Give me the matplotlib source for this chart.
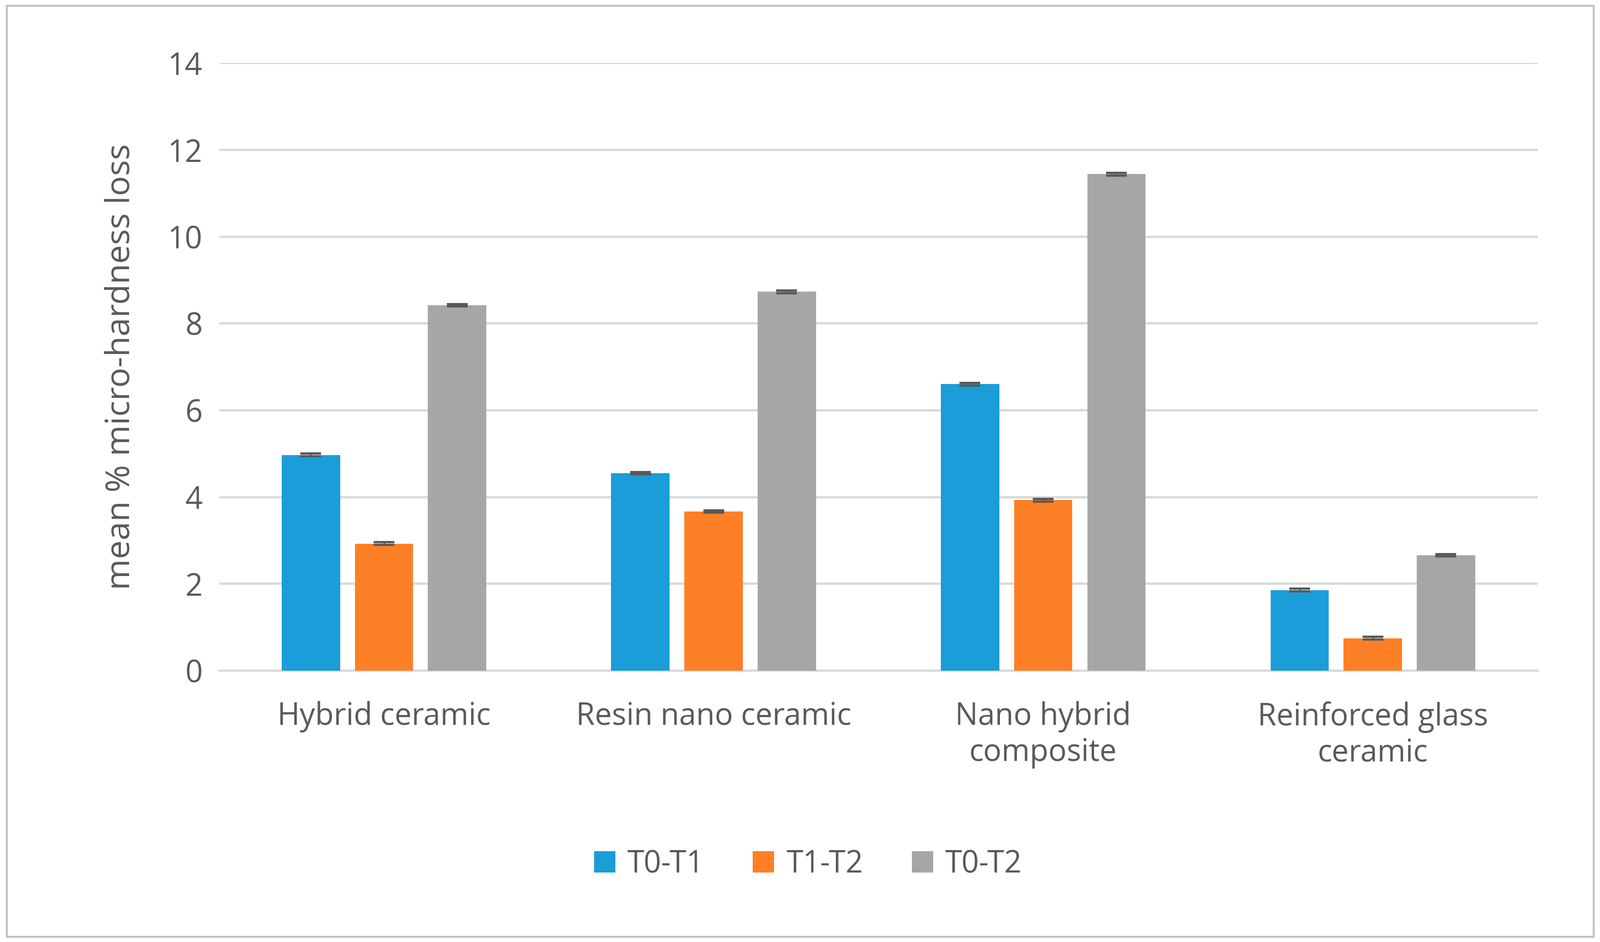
import matplotlib.pyplot as plt
import numpy as np
from matplotlib.patches import Rectangle

plt.rcParams["font.family"] = "Open Sans"

categories = ["Hybrid ceramic", "Resin nano ceramic", "Nano hybrid\ncomposite", "Reinforced glass\nceramic"]
series_names = ["T0-T1", "T1-T2", "T0-T2"]
t0_t1 = [4.97, 4.55, 6.60, 1.86]
t1_t2 = [2.93, 3.67, 3.93, 0.75]
t0_t2 = [8.42, 8.73, 11.44, 2.66]
errors = [0.03, 0.03, 0.03, 0.03]
colors = ["#1B9DD9", "#FF7F27", "#A6A6A6"]

fig = plt.figure(figsize=(29.25, 17.22), dpi=100)
ax = fig.add_axes([0.137, 0.288, 0.824, 0.645])
fig.patches.append(Rectangle((0.004, 0.006), 0.992, 0.988, transform=fig.transFigure,
                             fill=False, edgecolor="#BFBFBF", linewidth=2.5))

x = np.arange(len(categories))
w = 0.177
pitch = 0.222
for i, (vals, col, name) in enumerate(zip([t0_t1, t1_t2, t0_t2], colors, series_names)):
    ax.bar(x + (i - 1) * pitch, vals, w, color=col, label=name, zorder=3,
           yerr=errors, error_kw=dict(ecolor="#595959", capsize=14, capthick=3, elinewidth=2))

ax.set_ylim(0, 14)
ax.set_xlim(-0.5, 3.5)
ax.set_yticks(range(0, 15, 2))
ax.yaxis.grid(True, color="#D9D9D9", linewidth=3, zorder=0)
for s in ["top", "right", "left"]:
    ax.spines[s].set_visible(False)
ax.spines["bottom"].set_color("#D9D9D9")
ax.spines["bottom"].set_linewidth(3)
ax.tick_params(length=0, labelsize=40, labelcolor="#595959", pad=22)
ax.set_xticks(x)
ax.set_xticklabels(categories, linespacing=1.2)
ax.tick_params(axis="x", pad=40)
ax.set_ylabel("mean % micro-hardness loss", fontsize=44, color="#595959", labelpad=40)

fig.legend(loc="center", bbox_to_anchor=(0.505, 0.082), ncol=3, frameon=False,
           fontsize=40, labelcolor="#595959", handlelength=0.7, handleheight=0.7,
           columnspacing=1.6, handletextpad=0.4)

fig.savefig("out.png", dpi=100)
